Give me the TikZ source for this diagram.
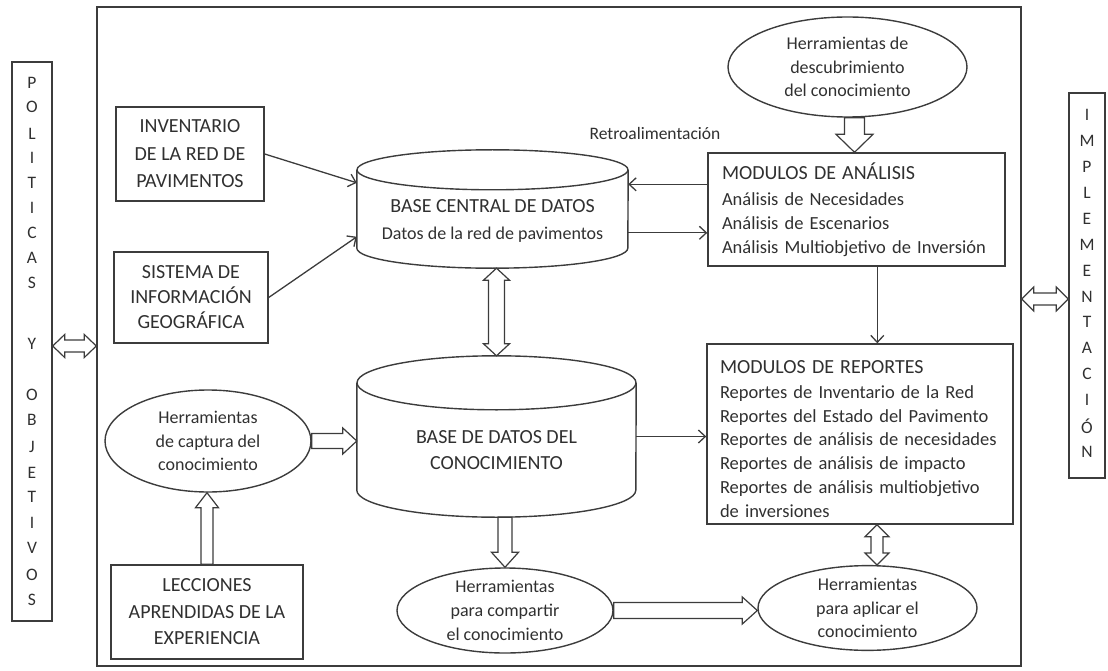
\documentclass[tikz,border=0pt]{standalone}
\usepackage{fontspec}
\setmainfont{Carlito}
\usetikzlibrary{arrows.meta,calc,shapes.geometric}

\definecolor{ink}{HTML}{3C3C3C}
\definecolor{txt}{HTML}{303030}

\newcommand\fsz[2]{\fontsize{#1}{#2}\selectfont}

\tikzset{
  ln/.style={draw=ink, line width=1.4pt},
  plainbox/.style={ln, rectangle, inner sep=0pt, align=center, text=txt, font=\fsz{20}{26}},
  listbox/.style={ln, rectangle, inner ysep=0pt, align=left, text=txt, font=\fsz{18.5}{23.7}},
  oval/.style={ln, ellipse, inner sep=0pt, align=center, text=txt, font=\fsz{18}{23.7}},
  cyltext/.style={align=center, text=txt, font=\fsz{20}{27}},
  letter/.style={text=txt, font=\fsz{17.5}{17.5}, inner sep=0pt},
  link/.style={draw=ink, line width=1.3pt, -{Straight Barb[length=7pt,width=13pt]}},
  fat/.style={draw=ink, line width=1.2pt, fill=white, line join=miter},
}

% outlined block arrow: start, end, shaft half width, head half width, head length
\newcommand\blockarrow[5]{%
  \coordinate (ba-h) at ($(#2)!#5!(#1)$);
  \draw[fat] ($(#1)!#3!90:(#2)$) -- ($(ba-h)!#3!90:(#2)$) -- ($(ba-h)!#4!90:(#2)$) -- (#2)
    -- ($(ba-h)!#4!-90:(#2)$) -- ($(ba-h)!#3!-90:(#2)$) -- ($(#1)!#3!-90:(#2)$) -- cycle;
}
% outlined two-headed block arrow
\newcommand\blockdouble[5]{%
  \coordinate (bd-a) at ($(#1)!#5!(#2)$);
  \coordinate (bd-b) at ($(#2)!#5!(#1)$);
  \draw[fat] (#1) -- ($(bd-a)!#4!90:(#2)$) -- ($(bd-a)!#3!90:(#2)$) -- ($(bd-b)!#3!90:(#2)$)
    -- ($(bd-b)!#4!90:(#2)$) -- (#2) -- ($(bd-b)!#4!-90:(#2)$) -- ($(bd-b)!#3!-90:(#2)$)
    -- ($(bd-a)!#3!-90:(#2)$) -- ($(bd-a)!#4!-90:(#2)$) -- cycle;
}
% database drum outline around a named node: node, half width, cap radius
\newcommand\dbdrum[3]{%
  \draw[ln] ([yshift=-#3]#1.north west) -- ([yshift=#3]#1.south west)
     arc[start angle=180, end angle=360, x radius=#2, y radius=#3]
     -- ([yshift=-#3]#1.north east);
  \draw[ln] ([yshift=-#3]#1.north) ellipse[x radius=#2, y radius=#3];
}

\begin{document}
\begin{tikzpicture}[x=1pt, y=-1pt]
\useasboundingbox (0,0) rectangle (1108,671);

% side panels and main frame
\node[ln, minimum width=924pt, minimum height=659pt, inner sep=0pt] (frame) at (559,336.5) {};
\node[ln, minimum width=40pt, minimum height=559pt, inner sep=0pt] (pol) at (32,341.5) {};
\node[ln, minimum width=36pt, minimum height=385pt, inner sep=0pt] (imp) at (1087,285.5) {};

\foreach \l/\y [count=\i] in {P/83, O/107, L/134, I/158, T/183, I/208, C/233, A/258, S/283,
    Y/344, O/395, B/420, J/447, E/473, T/497, I/523, V/548, O/575, S/600}
  \node[letter] (pol-\i) at (32,\y) {\l};
\foreach \l [count=\i from 0] in {I,M,P,L,E,M,E,N,T,A,C,I,Ó,N}
  \node[letter] (imp-\i) at (1087,115+25.92*\i) {\l};

% input boxes
\node[plainbox, minimum width=148pt, minimum height=94pt, font=\fsz{20}{27.5}] (inv) at (190,154)
  {INVENTARIO\\DE LA RED DE\\PAVIMENTOS};
\node[plainbox, minimum width=154pt, minimum height=91pt, font=\fsz{20}{25}] (sig) at (191,297.5)
  {SISTEMA DE\\INFORMACIÓN\\GEOGRÁFICA};
\node[plainbox, minimum width=192pt, minimum height=94pt, font=\fsz{20}{26.5}] (lec) at (207,612)
  {LECCIONES\\APRENDIDAS DE LA\\EXPERIENCIA};

% databases
\node[minimum width=271pt, minimum height=118pt, inner sep=0pt] (bc) at (492.5,209) {};
\dbdrum{bc}{135.5pt}{20pt}
\node[cyltext] (bct) at (492.5,221)
  {BASE CENTRAL DE DATOS\\{\fsz{18}{27}Datos de la red de pavimentos}};
\node[minimum width=279pt, minimum height=161pt, inner sep=0pt] (kc) at (496.5,436.5) {};
\dbdrum{kc}{139.5pt}{27pt}
\node[cyltext, font=\fsz{20}{26}] (kct) at (496.5,450) {BASE DE DATOS DEL\\CONOCIMIENTO};

% module boxes
\node[listbox, inner xsep=14pt, text width=269pt, minimum height=113pt] (mod) at (856.5,209.5)
  {{\fsz{20}{24}MODULOS DE ANÁLISIS}\\[3pt]
   Análisis de Necesidades\\
   Análisis de Escenarios\\
   Análisis Multiobjetivo de Inversión};
\node[listbox, inner xsep=13pt, text width=280pt, minimum height=180pt] (rep) at (860,434)
  {{\fsz{20}{24}\rule{0pt}{23pt}MODULOS DE REPORTES}\\[1pt]
   Reportes de Inventario de la Red\\
   Reportes del Estado del Pavimento\\
   Reportes de análisis de necesidades\\
   Reportes de análisis de impacto\\
   Reportes de análisis multiobjetivo\\
   de inversiones};

% knowledge tools
\node[oval, minimum width=239pt, minimum height=100pt] (desc) at (847.5,67)
  {Herramientas de\\descubrimiento\\del conocimiento};
\node[oval, minimum width=206pt, minimum height=102pt] (cap) at (208,441)
  {Herramientas\\de captura del\\conocimiento};
\node[oval, minimum width=216pt, minimum height=85pt] (comp) at (505,610.5)
  {Herramientas\\para compartir\\el conocimiento};
\node[oval, minimum width=219pt, minimum height=84pt] (apl) at (867.5,608)
  {Herramientas\\para aplicar el\\conocimiento};

\node[text=txt, font=\fsz{17.5}{20}, inner sep=0pt] (retro) at (655,133) {Retroalimentación};

% thin connectors
\coordinate (bcin1) at ($(bc.north west)+(0,33)$);
\coordinate (bcin2) at ($(bc.north west)+(0,87)$);
\coordinate (modout) at ($(mod.north west)+(0,32)$);
\coordinate (bcout) at ($(bc.north east)+(0,83)$);
\coordinate (moddown) at ($(mod.south west)+(170,0)$);
\draw[link] (inv.east) -- (bcin1);
\draw[link] (sig.east) -- (bcin2);
\draw[link] (modout) -- (bc.east |- modout);
\draw[link] (bcout) -- (mod.west |- bcout);
\draw[link] (moddown) -- (moddown |- rep.north);
\draw[link] (kc.east) -- (rep.west |- kc.east);

% block arrows
\coordinate (d1) at ($(desc.south)+(7,0)$);
\coordinate (d2) at (d1 |- mod.north);
\blockarrow{d1}{d2}{10pt}{18.5pt}{18pt}
\coordinate (v1) at (kc.north |- bc.south);
\blockdouble{v1}{kc.north}{8pt}{13pt}{12pt}
\coordinate (c2) at (kc.west |- cap.east);
\blockarrow{cap.east}{c2}{7.5pt}{13pt}{14pt}
\coordinate (l2) at (lec.north |- cap.south);
\blockarrow{lec.north}{l2}{6pt}{11.5pt}{15pt}
\coordinate (k1) at (comp.north |- kc.south);
\blockarrow{k1}{comp.north}{7pt}{13.5pt}{15pt}
\coordinate (a2) at (apl.west |- comp.east);
\blockarrow{comp.east}{a2}{8pt}{13.5pt}{15pt}
\coordinate (r1) at ($(rep.south)+(17,0)$);
\coordinate (r2) at (r1 |- apl.north);
\blockdouble{r1}{r2}{6pt}{12pt}{12pt}
\coordinate (p1) at ($(pol.east)+(0,4.5)$);
\coordinate (p2) at (frame.west |- p1);
\blockdouble{p1}{p2}{6pt}{11.5pt}{12pt}
\coordinate (q1) at ($(frame.east)+(0,-37.5)$);
\coordinate (q2) at (imp.west |- q1);
\blockdouble{q1}{q2}{6pt}{12pt}{12pt}
\end{tikzpicture}
\end{document}
